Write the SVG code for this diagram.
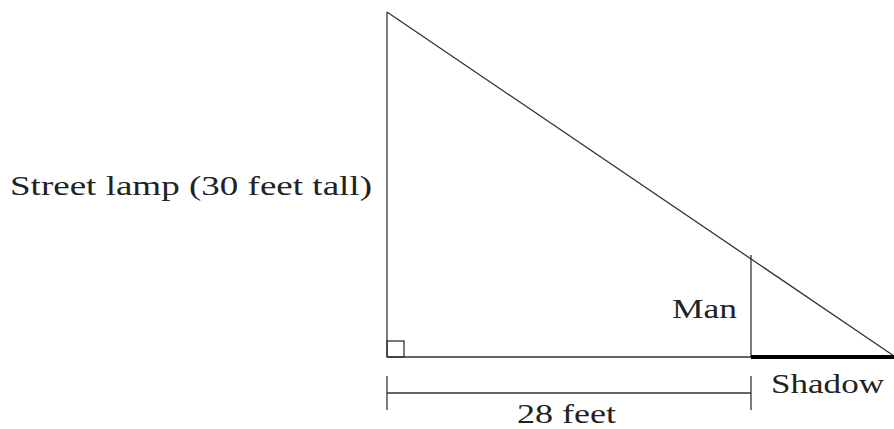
<svg xmlns="http://www.w3.org/2000/svg" width="894" height="429" viewBox="0 0 894 429">
<style>
.ln{stroke:#333;stroke-width:1.3;fill:none}
.thick{stroke:#000;stroke-width:4;fill:none}
text{font-family:"Liberation Serif","DejaVu Serif",serif;font-size:27px;fill:#222}
</style>
<rect width="894" height="429" fill="#fff"/>
<g id="triangle">
<line class="ln" x1="387" y1="12" x2="387" y2="357"/>
<line class="ln" x1="387" y1="357" x2="894" y2="357"/>
<line class="ln" x1="387" y1="12" x2="900" y2="360"/>
<rect class="ln" x="387" y="341" width="17" height="16"/>
</g>
<g id="man">
<line class="ln" x1="751" y1="255" x2="751" y2="357"/>
</g>
<g id="shadow">
<line class="thick" x1="751" y1="357" x2="894" y2="357"/>
</g>
<g id="dimension">
<line class="ln" x1="387" y1="393" x2="751" y2="393"/>
<line class="ln" x1="387" y1="376" x2="387" y2="410"/>
<line class="ln" x1="751" y1="376" x2="751" y2="410"/>
</g>
<g id="labels">
<text x="10" y="195" textLength="362" lengthAdjust="spacingAndGlyphs">Street lamp (30 feet tall)</text>
<text x="672" y="318" textLength="65" lengthAdjust="spacingAndGlyphs">Man</text>
<text x="771" y="393" textLength="113" lengthAdjust="spacingAndGlyphs">Shadow</text>
<text x="517" y="423" textLength="99" lengthAdjust="spacingAndGlyphs">28 feet</text>
</g>
</svg>
